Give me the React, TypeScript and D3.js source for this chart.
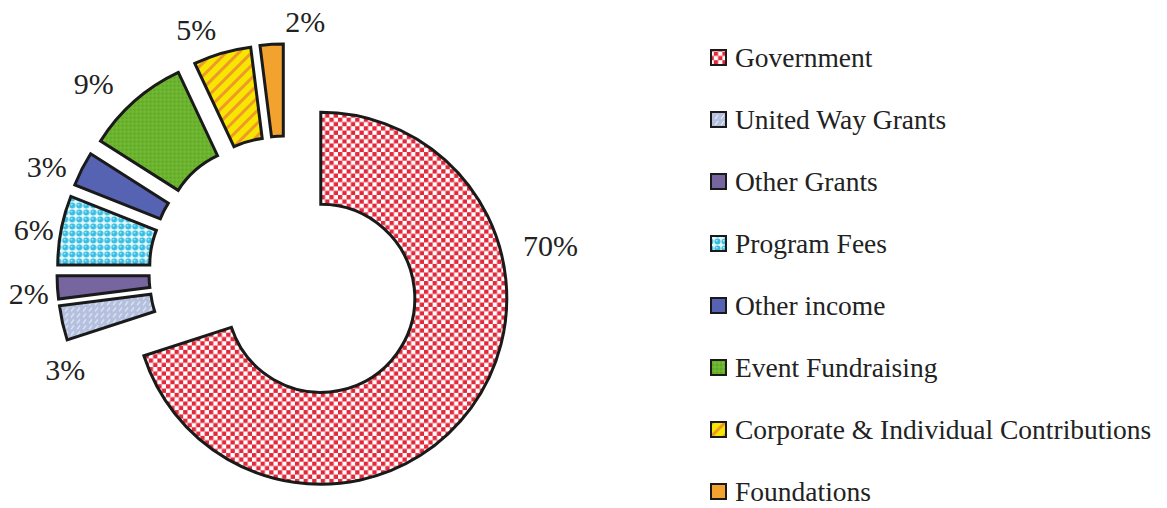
import React from 'react';
import * as d3 from 'd3';

// revenue sources, clockwise from 12 o'clock
const categories = [
  'Government',
  'United Way Grants',
  'Other Grants',
  'Program Fees',
  'Other income',
  'Event Fundraising',
  'Corporate & Individual Contributions',
  'Foundations',
];
const shares = [70, 3, 2, 6, 3, 9, 5, 2];
const pctLabels = ['70%', '3%', '2%', '6%', '3%', '9%', '5%', '2%'];

const W = 1167;
const H = 508;
const cx = 286;
const cy = 273;
const innerR = 94;
const outerR = 186;
const explode = 43;
const labelR = 258;
// label nudges so they sit where the original put them (degrees, px)
const labelShift = [-42, -11, -1, -1, -3, -4, -4, 8];
const labelPush = [8, -17, 0, -2, 4, 12, 2, -6];

const FONT = 'Liberation Serif';

function Patterns() {
  return (
    <defs>
      <pattern id="p0" width="8.6" height="8.6" patternUnits="userSpaceOnUse">
        <rect width="8.6" height="8.6" fill="#fff" />
        <rect width="4.3" height="4.3" fill="#e2283a" />
        <rect x="4.3" y="4.3" width="4.3" height="4.3" fill="#e2283a" />
      </pattern>
      <pattern id="p1" width="6" height="6" patternUnits="userSpaceOnUse">
        <rect width="6" height="6" fill="#b4c0de" />
        <line x1="1" y1="5" x2="4" y2="1" stroke="#e8eef8" strokeWidth="1.2" />
      </pattern>
      <pattern id="p2" width="4" height="4" patternUnits="userSpaceOnUse">
        <rect width="4" height="4" fill="#76659f" />
      </pattern>
      <pattern id="p3" width="7" height="7" patternUnits="userSpaceOnUse">
        <rect width="7" height="7" fill="#e6f8fc" />
        <circle cx="3.5" cy="3.5" r="3" fill="#36bde2" />
        <circle cx="2.7" cy="2.7" r="0.9" fill="#b8ecf8" />
      </pattern>
      <pattern id="p4" width="4" height="4" patternUnits="userSpaceOnUse">
        <rect width="4" height="4" fill="#5563b2" />
      </pattern>
      <pattern id="p5" width="4" height="4" patternUnits="userSpaceOnUse">
        <rect width="4" height="4" fill="#6cb42e" />
        <circle cx="1" cy="1" r="0.7" fill="#4e9420" />
        <circle cx="3" cy="3" r="0.7" fill="#82c444" />
      </pattern>
      <pattern id="p6" width="9" height="9" patternUnits="userSpaceOnUse" patternTransform="rotate(45)">
        <rect width="9" height="9" fill="#f6e600" />
        <rect x="0" y="0" width="3" height="9" fill="#f0982a" />
      </pattern>
      <pattern id="p7" width="4" height="4" patternUnits="userSpaceOnUse">
        <rect width="4" height="4" fill="#f2a22e" />
      </pattern>
    </defs>
  );
}

export default function App() {
  const pie = d3
    .pie<number>()
    .sort(null)
    .startAngle(0)
    .endAngle(2 * Math.PI)
    .value((d) => d);
  const arcs = pie(shares);
  const arc = d3.arc<d3.PieArcDatum<number>>().innerRadius(innerR).outerRadius(outerR);

  const legendY = d3
    .scalePoint<string>()
    .domain(categories)
    .range([57.5, 491.5]);

  const textStyle = { fontFamily: FONT };

  return (
    <svg
      width={W}
      height={H}
      style={{ position: 'absolute', left: 0, top: 0, background: '#fff' }}
    >
      <Patterns />
      <rect width={W} height={H} fill="#fff" />
      <g transform={`translate(${cx},${cy})`}>
        {arcs.map((a, i) => {
          const mid = (a.startAngle + a.endAngle) / 2;
          const dx = Math.sin(mid) * explode;
          const dy = -Math.cos(mid) * explode;
          return (
            <path
              key={categories[i]}
              d={arc(a) || ''}
              transform={`translate(${dx},${dy})`}
              fill={`url(#p${i})`}
              stroke="#1a1a1a"
              strokeWidth={3}
              strokeLinejoin="miter"
            />
          );
        })}
        {arcs.map((a, i) => {
          const ang = (a.startAngle + a.endAngle) / 2 + (labelShift[i] * Math.PI) / 180;
          const r = labelR + labelPush[i];
          return (
            <text
              key={'l' + i}
              x={Math.sin(ang) * r}
              y={-Math.cos(ang) * r}
              textAnchor="middle"
              dominantBaseline="central"
              style={textStyle}
              fontSize={30}
              fill="#222"
            >
              {pctLabels[i]}
            </text>
          );
        })}
      </g>
      <g>
        {categories.map((c, i) => {
          const y = legendY(c) as number;
          return (
            <g key={'lg' + c}>
              <rect
                x={711}
                y={y - 7.5}
                width={15}
                height={15}
                fill={`url(#p${i})`}
                stroke="#1a1a1a"
                strokeWidth={2}
              />
              <text
                x={735}
                y={y + 9.5}
                style={textStyle}
                fontSize={27.5}
                fill="#222"
              >
                {c}
              </text>
            </g>
          );
        })}
      </g>
    </svg>
  );
}
